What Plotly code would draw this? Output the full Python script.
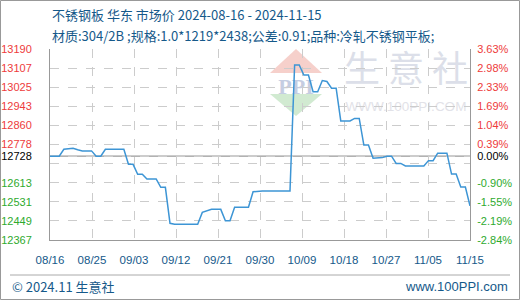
import pandas as pd
import plotly.graph_objects as go

W, H = 520, 300
L, R, T, B = 50, 470, 49, 240  # plot area in pixels

start_date = "2024-08-16"
prices = [
    12728, 12728, 12728, 12758, 12760, 12762, 12756, 12751, 12751, 12751,
    12728, 12728, 12758, 12758, 12758, 12758, 12758, 12693, 12693, 12650,
    12650, 12630, 12630, 12630, 12594, 12594, 12439, 12435, 12435, 12435,
    12435, 12435, 12435, 12486, 12492, 12499, 12499, 12499, 12450, 12450,
    12508, 12508, 12508, 12508, 12575, 12578, 12578, 12578, 12578, 12578,
    12578, 12578, 12578, 13121, 13121, 13078, 13078, 13006, 13006, 13054,
    13050, 13021, 13021, 12880, 12880, 12880, 12891, 12891, 12776, 12776,
    12719, 12719, 12722, 12728, 12728, 12697, 12697, 12686, 12686, 12686,
    12686, 12686, 12709, 12709, 12741, 12741, 12741, 12651, 12651, 12595,
    12595, 12514,
]
dates = pd.date_range(start_date, periods=len(prices), freq="D")
base_value = 12728

y_tick_vals = [13190, 13107, 13025, 12943, 12860, 12778, 12728, 12696, 12613, 12531, 12449, 12367]
y_tick_left = ["13190", "13107", "13025", "12943", "12860", "12778", "12728", "", "12613", "12531", "12449", "12367"]
y_tick_right = ["3.63%", "2.98%", "2.33%", "1.69%", "1.04%", "0.39%", "0.00%", "", "-0.90%", "-1.55%", "-2.19%", "-2.84%"]
x_tick_labels = ["08/16", "08/25", "09/03", "09/12", "09/21", "09/30", "10/09", "10/18", "10/27", "11/05", "11/15"]

RED = "#ee3b3b"
GREEN = "#2eaa2e"
BLACK = "#000000"
BLUE_TXT = "#15598a"


def colored(text, val):
    if text == "":
        return ""
    c = RED if val > base_value else (GREEN if val < base_value else BLACK)
    return f"<span style='color:{c}'>{text}</span>"


left_text = [colored(t, v) for t, v in zip(y_tick_left, y_tick_vals)]
right_text = [colored(t, v) for t, v in zip(y_tick_right, y_tick_vals)]

x0 = pd.Timestamp(dates[0])
x1 = pd.Timestamp(dates[-1])
span = (x1 - x0) / (len(x_tick_labels) - 1)
x_tick_vals = [x0 + span * k for k in range(len(x_tick_labels))]


def px(x):
    return (x - L) / (R - L)


def py(y):
    return (B - y) / (B - T)


fig = go.Figure()
fig.add_trace(go.Scatter(
    x=dates, y=prices, mode="lines",
    line=dict(color="#3d95d5", width=1.5),
    hoverinfo="skip", showlegend=False,
))
fig.add_trace(go.Scatter(
    x=dates, y=prices, mode="lines", yaxis="y2",
    line=dict(color="rgba(0,0,0,0)", width=0),
    hoverinfo="skip", showlegend=False,
))

grid = dict(showgrid=True, gridcolor="#cccccc", gridwidth=1, griddash="dash")
fig.update_layout(
    width=W, height=H,
    margin=dict(l=L, r=W - R, t=T, b=H - B, pad=0, autoexpand=False),
    paper_bgcolor="white", plot_bgcolor="white",
    font=dict(family="Liberation Sans, Arial, sans-serif", size=11),
    xaxis=dict(
        type="date", range=[x0, x1], automargin=False,
        tickmode="array", tickvals=x_tick_vals, ticktext=x_tick_labels,
        tickfont=dict(color=BLUE_TXT, size=11.5),
        showline=True, linecolor="#999999", linewidth=1,
        ticks="", ticklabelstandoff=9,
        zeroline=False, **grid,
    ),
    yaxis=dict(
        range=[12367, 13190], tickmode="array", automargin=False,
        tickvals=y_tick_vals, ticktext=left_text,
        showline=True, linecolor="#999999", linewidth=1,
        ticks="", ticklabelstandoff=15,
        zeroline=False, **grid,
    ),
    yaxis2=dict(
        range=[12367, 13190], overlaying="y", side="right", automargin=False,
        tickmode="array", tickvals=y_tick_vals, ticktext=right_text,
        showline=True, linecolor="#999999", linewidth=1,
        ticks="", ticklabelstandoff=4, showgrid=False, zeroline=False,
    ),
)

shapes = []
# watermark logo (below gridlines)
shapes.append(dict(type="path", xref="paper", yref="paper", layer="below",
                   path=f"M {px(270)},{py(73)} L {px(322)},{py(73)} L {px(296)},{py(49)} Z",
                   fillcolor="rgba(244,196,190,0.8)", line=dict(width=0)))
shapes.append(dict(type="path", xref="paper", yref="paper", layer="below",
                   path=f"M {px(270)},{py(94)} L {px(322)},{py(94)} L {px(296)},{py(116)} Z",
                   fillcolor="rgba(204,232,204,0.9)", line=dict(width=0)))
shapes.append(dict(type="rect", xref="paper", yref="paper", layer="below",
                   x0=px(268), x1=px(324), y0=py(96), y1=py(72),
                   line=dict(width=0), fillcolor="rgba(0,0,0,0)",
                   label=dict(text="<b>PPI</b>", textposition="middle center",
                              font=dict(family="Liberation Serif, serif", size=22, color="#c5cde2"))))
shapes.append(dict(type="rect", xref="paper", yref="paper", layer="below",
                   x0=px(340), x1=px(472), y0=py(92), y1=py(52),
                   line=dict(width=0), fillcolor="rgba(0,0,0,0)",
                   label=dict(text="生 意 社", textposition="middle center",
                              font=dict(family="Noto Sans CJK SC", size=36, color="#dcdfe9"))))
shapes.append(dict(type="rect", xref="paper", yref="paper", layer="below",
                   x0=px(340), x1=px(472), y0=py(114), y1=py(96),
                   line=dict(width=0), fillcolor="rgba(0,0,0,0)",
                   label=dict(text="WWW.100PPI.COM", textposition="middle center",
                              font=dict(family="Liberation Sans, Arial", size=13.5, color="#e2e2e8"))))
# base price line
shapes.append(dict(type="line", xref="paper", yref="y", layer="between",
                   x0=0, x1=1, y0=base_value, y1=base_value,
                   line=dict(color="#999999", width=1.2)))
# footer separator
shapes.append(dict(type="line", xref="paper", yref="paper",
                   x0=px(10), x1=px(510), y0=py(275), y1=py(275),
                   line=dict(color="#aaaaaa", width=1)))
# outer border
shapes.append(dict(type="rect", xref="paper", yref="paper",
                   x0=px(0.5), x1=px(519.5), y0=py(299.5), y1=py(0.5),
                   line=dict(color="#999999", width=1), fillcolor="rgba(0,0,0,0)"))
fig.update_layout(shapes=shapes)

annotations = [
    dict(text="不锈钢板 华东 市场价 2024-08-16 - 2024-11-15", x=px(50), y=py(15),
         xanchor="left", yanchor="middle", font=dict(size=13, color=BLUE_TXT, family="Noto Sans CJK SC")),
    dict(text="材质:304/2B ;规格:1.0*1219*2438;公差:0.91;品种:冷轧不锈钢平板;", x=px(50), y=py(35),
         xanchor="left", yanchor="middle", font=dict(size=13, color=BLUE_TXT, family="Noto Sans CJK SC")),
    dict(text="© 2024.11 生意社", x=px(10), y=py(286),
         xanchor="left", yanchor="middle", font=dict(size=13, color=BLUE_TXT, family="Noto Sans CJK SC")),
    dict(text="www.100PPI.com", x=px(510), y=py(286),
         xanchor="right", yanchor="middle", font=dict(size=13, color=BLUE_TXT, family="Liberation Sans, Arial")),
]
for a in annotations:
    a.update(xref="paper", yref="paper", showarrow=False)
fig.update_layout(annotations=annotations)

fig.write_html("out.html")
